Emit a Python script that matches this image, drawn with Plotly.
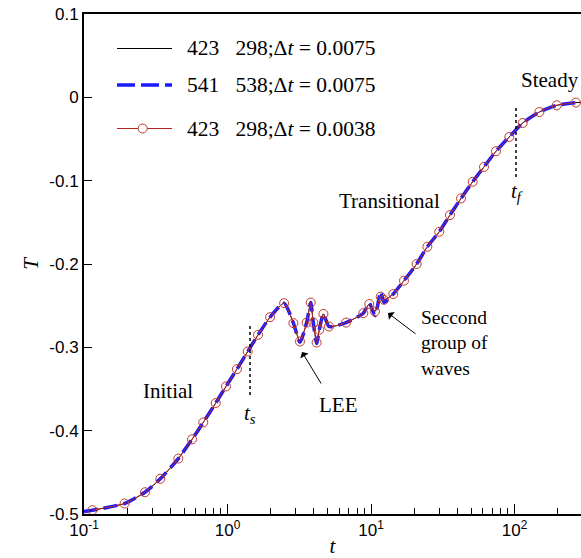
import numpy as np
import plotly.graph_objects as go

# time values (log-spaced positions)
t = [0.100, 0.1143, 0.192, 0.266, 0.340, 0.454, 0.566, 0.678, 0.828, 0.976,
     1.164, 1.383, 1.634, 1.98, 2.48, 2.88, 3.20, 3.56, 3.80, 3.96,
     4.18, 4.36, 4.66, 5.10, 6.70, 8.84, 9.73, 10.66, 11.69, 12.3,
     14.3, 16.98, 20.8, 24.7, 29.9, 35.5, 42.4, 51.1, 61.3, 74.3,
     92.0, 114, 149, 197, 268, 290]

T_fine = [-0.497, -0.4954, -0.4874, -0.4739, -0.4578, -0.4335, -0.4104, -0.3901, -0.3668, -0.3469,
          -0.3261, -0.305, -0.285, -0.2638, -0.247, -0.271, -0.293, -0.2703, -0.2463, -0.2703,
          -0.2943, -0.279, -0.2599, -0.275, -0.2703, -0.259, -0.248, -0.257, -0.2392, -0.243,
          -0.236, -0.220, -0.200, -0.1793, -0.1613, -0.1413, -0.1213, -0.1014, -0.0835, -0.0647,
          -0.0475, -0.0308, -0.0176, -0.0096, -0.0063, -0.0062]

T_grid2 = [-0.497, -0.4954, -0.4874, -0.4739, -0.4578, -0.4335, -0.4104, -0.3901, -0.3668, -0.3469,
           -0.3261, -0.305, -0.285, -0.2638, -0.247, -0.271, -0.294, -0.2703, -0.2463, -0.2703,
           -0.2953, -0.279, -0.2599, -0.275, -0.2703, -0.259, -0.247, -0.262, -0.2332, -0.246,
           -0.236, -0.220, -0.200, -0.1793, -0.1613, -0.1413, -0.1213, -0.1014, -0.0835, -0.0647,
           -0.0475, -0.0308, -0.0176, -0.0096, -0.0063, -0.0062]

T_dt = [-0.497, -0.4954, -0.4874, -0.4739, -0.4578, -0.4335, -0.4104, -0.3901, -0.3668, -0.3469,
        -0.3261, -0.305, -0.285, -0.2638, -0.247, -0.271, -0.293, -0.2703, -0.2463, -0.2703,
        -0.2943, -0.279, -0.2599, -0.275, -0.2703, -0.259, -0.248, -0.257, -0.2392, -0.243,
        -0.236, -0.220, -0.200, -0.1793, -0.1613, -0.1413, -0.1213, -0.1014, -0.0835, -0.0647,
        -0.0475, -0.0308, -0.0176, -0.0096, -0.0063, -0.0062]

names = ["423&nbsp;&nbsp; 298;Δ<i>t</i> = 0.0075",
         "541&nbsp;&nbsp; 538;Δ<i>t</i> = 0.0075",
         "423&nbsp;&nbsp; 298;Δ<i>t</i> = 0.0038"]

xtick_vals = [0.1, 1, 10, 100]
xtick_text = ["10<sup>-1</sup>", "10<sup>0</sup>", "10<sup>1</sup>", "10<sup>2</sup>"]
minor_vals = [m * 10.0 ** e for e in (-1, 0, 1, 2) for m in range(2, 10)]
ytick_vals = [0.1, 0, -0.1, -0.2, -0.3, -0.4, -0.5]
ytick_text = ["0.1", "0", "-0.1", "-0.2", "-0.3", "-0.4", "-0.5"]

W, H = 581, 558
L, R, TOP, B = 84, 0, 14, 44
PW, PH = W - L - R, H - TOP - B

def px(x):
    return (x - L) / PW

def py(y):
    return 1 - (y - TOP) / PH

SERIF = '"Liberation Serif", "Times New Roman", Times, serif'
SANS = '"Liberation Sans", Arial, sans-serif'
BLUE = "#1a1aff"
RED = "#b22222"

fig = go.Figure()
fig.add_trace(go.Scatter(x=t, y=T_fine, mode="lines", name=names[0], showlegend=False,
                         line=dict(color="black", width=1, shape="spline", smoothing=0.6)))
fig.add_trace(go.Scatter(x=t, y=T_grid2, mode="lines", name=names[1], showlegend=False,
                         line=dict(color=BLUE, width=3.5, dash="14px,6px", shape="spline", smoothing=0.6)))
fig.add_trace(go.Scatter(x=t[1:-1], y=T_dt[1:-1], mode="lines+markers", name=names[2], showlegend=False,
                         line=dict(color=RED, width=1, shape="spline", smoothing=0.6),
                         marker=dict(symbol="circle-open", size=9, color="#c0392b", line=dict(width=1))))

# legend drawn by hand so that its spacing follows the reference
leg_rows = [48.5, 85, 128.5]
leg_x0, leg_x1, leg_tx = 117, 172, 185
fig.add_shape(type="line", xref="paper", yref="paper", x0=px(leg_x0), x1=px(leg_x1),
              y0=py(leg_rows[0]), y1=py(leg_rows[0]), line=dict(color="black", width=1))
fig.add_shape(type="line", xref="paper", yref="paper", x0=px(leg_x0), x1=px(leg_x1),
              y0=py(leg_rows[1]), y1=py(leg_rows[1]), line=dict(color=BLUE, width=3.5, dash="18px,6px"))
fig.add_shape(type="line", xref="paper", yref="paper", x0=px(leg_x0), x1=px(leg_x1),
              y0=py(leg_rows[2]), y1=py(leg_rows[2]), line=dict(color=RED, width=1))
fig.add_shape(type="circle", xref="paper", yref="paper", x0=px(138.2), x1=px(147.2),
              y0=py(leg_rows[2] + 4.5), y1=py(leg_rows[2] - 4.5), line=dict(color="#c0392b", width=1),
              fillcolor="white")
for nm, yy in zip(names, leg_rows):
    fig.add_annotation(text=nm, xref="paper", yref="paper", x=px(leg_tx), y=py(yy), showarrow=False,
                       xanchor="left", yanchor="middle", font=dict(family=SERIF, size=21.5, color="black"))

# dotted markers for t_s and t_f
fig.add_shape(type="line", xref="paper", yref="paper", x0=px(250), x1=px(250), y0=py(326), y1=py(396),
              line=dict(color="black", width=1.5, dash="dot"))
fig.add_shape(type="line", xref="paper", yref="paper", x0=px(516), x1=px(516), y0=py(108), y1=py(177),
              line=dict(color="black", width=1.5, dash="dot"))

def label(text, x, y, xanchor="center", size=21, align="center"):
    fig.add_annotation(text=text, xref="paper", yref="paper", x=px(x), y=py(y), showarrow=False,
                       xanchor=xanchor, yanchor="middle", align=align,
                       font=dict(family=SERIF, size=size, color="black"))

label("Initial", 168, 391)
label("LEE", 338, 405)
label("Transitional", 389, 201)
label("Steady", 550, 80)
label("Seccond<br>group of<br>waves", 419, 343, xanchor="left", size=19.5, align="left")
label("<i>t<sub>s</sub></i>", 250, 414)
label("<i>t<sub>f</sub></i>", 517, 192)

def arrow(x0, y0, x1, y1):
    fig.add_annotation(x=px(x1), y=py(y1), ax=x0 - x1, ay=y0 - y1, xref="paper", yref="paper",
                       axref="pixel", ayref="pixel", text="", showarrow=True,
                       arrowhead=1, arrowsize=1.6, arrowwidth=1, arrowcolor="black")

arrow(322, 385, 302, 352)
arrow(417, 335, 388, 313)

fig.update_layout(
    width=W, height=H, margin=dict(l=L, r=R, t=TOP, b=B),
    paper_bgcolor="white", plot_bgcolor="white",
    showlegend=False,
    xaxis=dict(type="log", range=[-1, -1 + PW / 143.5], showline=True, linecolor="black", linewidth=2,
               mirror=True, showgrid=False, zeroline=False, ticks="inside", ticklen=10, tickwidth=1,
               tickcolor="black", tickvals=xtick_vals, ticktext=xtick_text,
               tickfont=dict(family=SANS, size=17, color="black"),
               minor=dict(tickvals=minor_vals, ticks="inside", ticklen=6, tickcolor="black", showgrid=False),
               title=dict(text="<i>t</i>", font=dict(family=SERIF, size=21, color="black"), standoff=2)),
    yaxis=dict(range=[-0.5, 0.1], showline=True, linecolor="black", linewidth=2, mirror=False,
               showgrid=False, zeroline=False, ticks="inside", ticklen=8, tickwidth=1, tickcolor="black",
               tickvals=ytick_vals, ticktext=ytick_text,
               tickfont=dict(family=SANS, size=17, color="black"),
               title=dict(text="<i>T</i>", font=dict(family=SERIF, size=21, color="black"), standoff=5)),
)

fig.write_html("out.html")
